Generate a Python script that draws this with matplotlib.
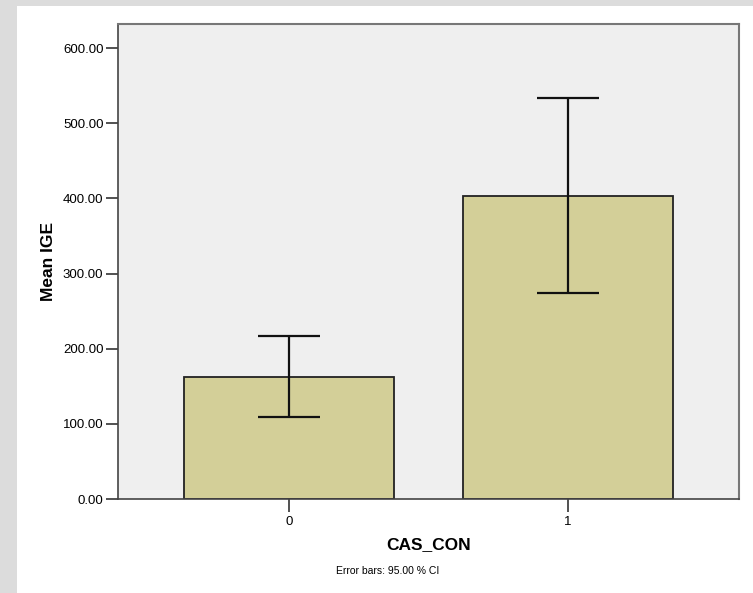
import numpy as np
import matplotlib.pyplot as plt
from matplotlib.patches import Rectangle

plt.rcParams['font.family'] = ['Liberation Sans', 'DejaVu Sans']

categories = ['0', '1']
means = [162.7, 403.5]
ci_low = [109.0, 274.0]
ci_high = [216.8, 533.0]
yticks = [0, 100, 200, 300, 400, 500, 600]

W, H = 753, 593
fig = plt.figure(figsize=(W / 100, H / 100), dpi=100)
fig.patch.set_facecolor('#dcdcdc')
# white chart panel inside the gray border
fig.patches.append(Rectangle((17 / W, 0), 1 - 17 / W, 1 - 6 / H,
                             transform=fig.transFigure, facecolor='white',
                             edgecolor='none', zorder=-5))

l, r, b, t = 118, 739, 499, 24
ax = fig.add_axes([l / W, 1 - b / H, (r - l) / W, (b - t) / H])
ax.set_zorder(2)
ax.set_facecolor('#efefef')

x = np.arange(len(categories))
m = np.array(means)
err = [m - np.array(ci_low), np.array(ci_high) - m]
ax.bar(x, m, width=0.753, color='#d3cf98', edgecolor='#222222', linewidth=1.3, zorder=2)
ax.errorbar(x, m, yerr=err, fmt='none', ecolor='#111111', elinewidth=1.6,
            capsize=22, capthick=1.6, zorder=3)

ax.set_xlim(-0.613, 1.613)
ax.set_ylim(0, 632)
ax.set_xticks(x)
ax.set_xticklabels(categories)
ax.set_yticks(yticks)
ax.set_yticklabels([f'{v:.2f}' for v in yticks])
ax.tick_params(axis='both', length=9, width=1.2, color='#333333',
               labelsize=9.5, pad=1.5)
ax.tick_params(axis='x', pad=3)

for side in ['top', 'right']:
    ax.spines[side].set_color('#777777')
    ax.spines[side].set_linewidth(1.5)
for side in ['left', 'bottom']:
    ax.spines[side].set_color('#444444')
    ax.spines[side].set_linewidth(1.2)

ax.set_ylabel('Mean IGE', fontsize=12.5, fontweight='bold', labelpad=5)
ax.set_xlabel('CAS_CON', fontsize=12.5, fontweight='bold', labelpad=7)
fig.text(388 / W, 1 - 571 / H, 'Error bars: 95.00 % CI', fontsize=7.5,
         ha='center', va='center')

fig.savefig('out.png', dpi=100)
